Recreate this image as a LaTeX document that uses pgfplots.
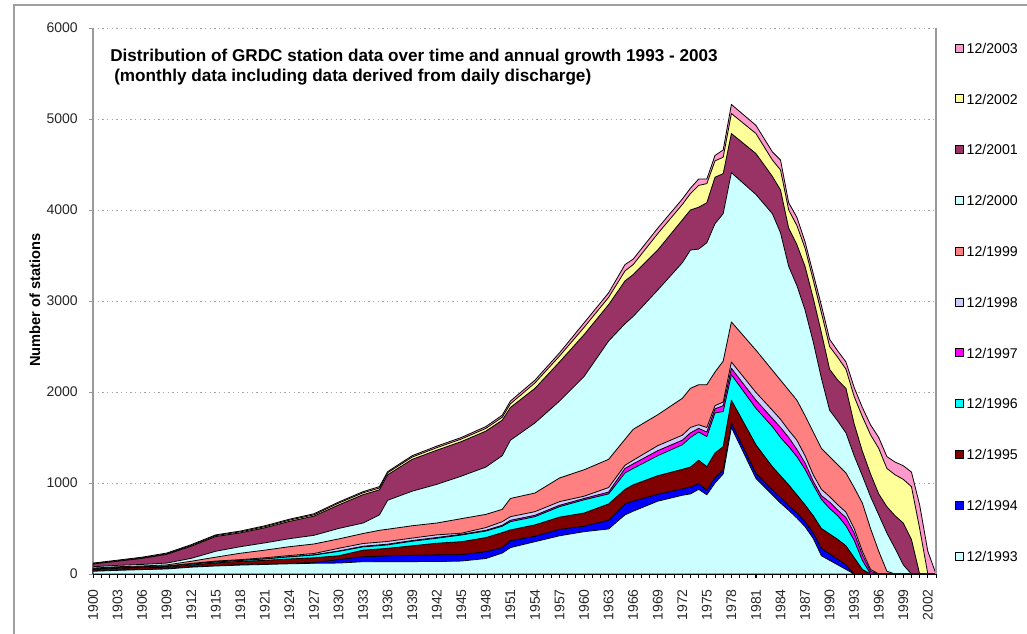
\documentclass[border=0pt]{standalone}
\usepackage{fontspec}
\setmainfont{Liberation Sans}
\usepackage{pgfplots}
\usepackage{pgfplotstable}
\pgfplotsset{compat=1.18}

\definecolor{c93}{HTML}{CCFFFF}
\definecolor{c94}{HTML}{0000FF}
\definecolor{c95}{HTML}{800000}
\definecolor{c96}{HTML}{00FFFF}
\definecolor{c97}{HTML}{FF00FF}
\definecolor{c98}{HTML}{CCCCFF}
\definecolor{c99}{HTML}{FF8080}
\definecolor{c00}{HTML}{CCFFFF}
\definecolor{c01}{HTML}{993366}
\definecolor{c02}{HTML}{FFFF99}
\definecolor{c03}{HTML}{FF99CC}

% stations available in each GRDC snapshot (cumulative, so each layer covers the one below)
\pgfplotstableread{
year c93 c94 c95 c96 c97 c98 c99 c00 c01 c02 c03
1900 30 32 50 55 57 60 65 80 110 115 120
1903 40 42 62 68 70 73 80 95 140 146 152
1906 48 50 68 74 76 80 88 105 172 178 185
1909 55 57 74 82 84 88 100 120 215 222 230
1912 75 78 98 108 110 116 140 172 305 314 322
1915 88 92 122 132 135 142 185 250 412 422 430
1918 98 102 138 148 151 158 228 300 452 463 472
1921 105 110 150 165 168 178 262 342 508 520 530
1924 112 118 165 188 191 203 300 388 578 592 602
1927 118 126 178 208 211 225 330 425 636 650 662
1930 120 158 200 248 253 282 385 500 758 778 790
1933 135 190 262 298 305 335 445 560 872 892 905
1935 136 195 275 312 320 350 480 650 925 945 960
1936 136 198 282 320 328 358 492 810 1090 1112 1125
1939 136 205 310 360 368 395 530 910 1260 1285 1300
1942 137 210 338 393 401 430 560 985 1360 1388 1405
1945 142 212 355 428 436 448 608 1075 1455 1483 1500
1948 170 245 400 472 480 510 655 1175 1570 1600 1620
1950 230 290 455 525 535 575 710 1300 1690 1722 1745
1951 290 365 484 575 590 630 830 1470 1830 1870 1900
1954 355 415 540 630 645 685 890 1660 2040 2100 2130
1957 420 490 625 740 755 795 1055 1900 2330 2395 2430
1960 465 525 670 815 830 855 1145 2170 2630 2710 2760
1963 495 590 770 880 900 950 1260 2560 2960 3040 3090
1965 650 770 930 1110 1160 1195 1480 2750 3220 3330 3400
1966 690 800 980 1160 1210 1250 1590 2830 3290 3400 3460
1969 800 875 1080 1300 1355 1410 1750 3120 3560 3740 3800
1972 865 935 1150 1420 1470 1525 1930 3420 3890 4060 4120
1973 880 955 1175 1500 1550 1610 2040 3560 4000 4180 4240
1974 930 990 1250 1560 1600 1640 2080 3570 4030 4270 4340
1975 870 920 1180 1510 1560 1610 2080 3640 4080 4290 4340
1976 1000 1060 1330 1770 1815 1850 2220 3850 4360 4540 4600
1977 1100 1140 1400 1785 1850 1890 2340 3960 4400 4580 4660
1978 1610 1660 1910 2190 2260 2330 2770 4410 4840 5060 5160
1981 1050 1105 1420 1820 1910 1995 2460 4170 4620 4840 4930
1983 870 925 1180 1620 1710 1800 2240 3960 4370 4550 4640
1984 780 840 1080 1500 1610 1700 2130 3750 4220 4440 4550
1985 700 750 980 1400 1500 1580 2020 3380 3800 4000 4080
1986 615 670 870 1290 1370 1470 1910 3170 3620 3830 3920
1987 520 575 760 1150 1220 1300 1740 2900 3380 3580 3650
1988 390 450 640 980 1020 1090 1560 2550 3030 3230 3300
1989 200 280 500 820 860 930 1380 2150 2650 2870 2950
1990 150 220 440 720 790 850 1290 1800 2250 2500 2580
1991 100 160 380 640 700 760 1200 1680 2130 2380 2450
1992 50 100 310 530 620 680 1110 1550 2040 2250 2330
1993 0 0 180 370 450 500 950 1300 1650 1950 2050
1994 0 0 50 150 210 250 780 1080 1350 1730 1830
1995 0 0 0 0 30 50 500 850 1100 1530 1640
1996 0 0 0 0 0 0 250 650 880 1380 1500
1997 0 0 0 0 0 0 30 450 740 1160 1290
1998 0 0 0 0 0 0 0 280 640 1090 1230
1999 0 0 0 0 0 0 0 100 560 1040 1190
2000 0 0 0 0 0 0 0 0 380 960 1120
2001 0 0 0 0 0 0 0 0 0 500 760
2002 0 0 0 0 0 0 0 0 0 0 250
2003 0 0 0 0 0 0 0 0 0 0 0
}\grdc

\begin{document}
\begin{tikzpicture}
  % page = 1027 x 634 px at 0.75pt per px, origin at the plot area's lower left corner
  \clip (-69.75pt,-45pt) rectangle (700.5pt,430.5pt);
  \draw[gray!75, line width=1.1pt] (-59.25pt,-80pt) rectangle (740pt,426.75pt);
  \begin{axis}[
      at={(0,0)}, anchor=south west,
      scale only axis,
      width=632.25pt, height=409.5pt,
      xmin=1900, xmax=2003,
      ymin=0, ymax=6000,
      axis x line*=bottom,
      axis y line*=left,
      x axis line style={black, line width=1pt},
      y axis line style={gray!80, line width=1pt},
      xtick={1900,1903,...,2002},
      minor xtick={1900,...,2003},
      ytick={0,1000,...,6000},
      tick align=outside,
      major tick length=3pt,
      minor tick length=3pt,
      xtick style={black, line width=0.6pt},
      ytick style={gray!80, line width=0.6pt},
      ymajorgrids,
      major grid style={draw=gray!70, line width=0.6pt, dash pattern=on 1pt off 2.5pt},
      /pgf/number format/1000 sep={},
      /pgf/number format/assume math mode=true,
      tick label style={font=\fontsize{10.5}{12}\selectfont, black!85},
      xticklabel style={rotate=90, anchor=east, inner sep=0pt},
      yticklabel style={anchor=east, inner sep=0pt},
      xticklabel shift=8.25pt,
      yticklabel shift=8.25pt,
      ylabel={Number of stations},
      ylabel style={at={(axis description cs:-0.0688,0.5018)}, anchor=center,
                    font=\bfseries\fontsize{11}{13}\selectfont},
      legend image code/.code={\draw[#1] (0pt,-3pt) rectangle (6pt,3pt);},
      legend cell align=left,
      legend style={at={(1.0225,0.9736)}, anchor=north west, draw=none, fill=none,
                    inner sep=0pt, row sep=30.1pt,
                    font=\fontsize{10.6}{12}\selectfont,
                    nodes={inner sep=0pt, text height=8pt, text depth=0pt},
                    /tikz/every odd column/.append style={column sep=2pt}},
      every axis plot/.append style={draw=black, line width=0.6pt, line join=round},
    ]
    \addplot[fill=c03] table[x=year, y=c03] {\grdc} \closedcycle;
    \addplot[fill=c02] table[x=year, y=c02] {\grdc} \closedcycle;
    \addplot[fill=c01] table[x=year, y=c01] {\grdc} \closedcycle;
    \addplot[fill=c00] table[x=year, y=c00] {\grdc} \closedcycle;
    \addplot[fill=c99] table[x=year, y=c99] {\grdc} \closedcycle;
    \addplot[fill=c98] table[x=year, y=c98] {\grdc} \closedcycle;
    \addplot[fill=c97] table[x=year, y=c97] {\grdc} \closedcycle;
    \addplot[fill=c96] table[x=year, y=c96] {\grdc} \closedcycle;
    \addplot[fill=c95] table[x=year, y=c95] {\grdc} \closedcycle;
    \addplot[fill=c94] table[x=year, y=c94] {\grdc} \closedcycle;
    \addplot[fill=c93] table[x=year, y=c93] {\grdc} \closedcycle;
    \legend{12/2003,12/2002,12/2001,12/2000,12/1999,12/1998,12/1997,12/1996,12/1995,12/1994,12/1993}
  \end{axis}
  \draw[gray!80, line width=1pt] (632.25pt,0pt) -- (632.25pt,409.5pt);
  \node[anchor=base west, inner sep=0pt, font=\bfseries\fontsize{12.85}{15}\selectfont]
    at (12.75pt,384.7pt) {Distribution of GRDC station data over time and annual growth 1993 - 2003};
  \node[anchor=base west, inner sep=0pt, font=\bfseries\fontsize{12.85}{15}\selectfont]
    at (15.75pt,369pt) {(monthly data including data derived from daily discharge)};
\end{tikzpicture}
\end{document}
